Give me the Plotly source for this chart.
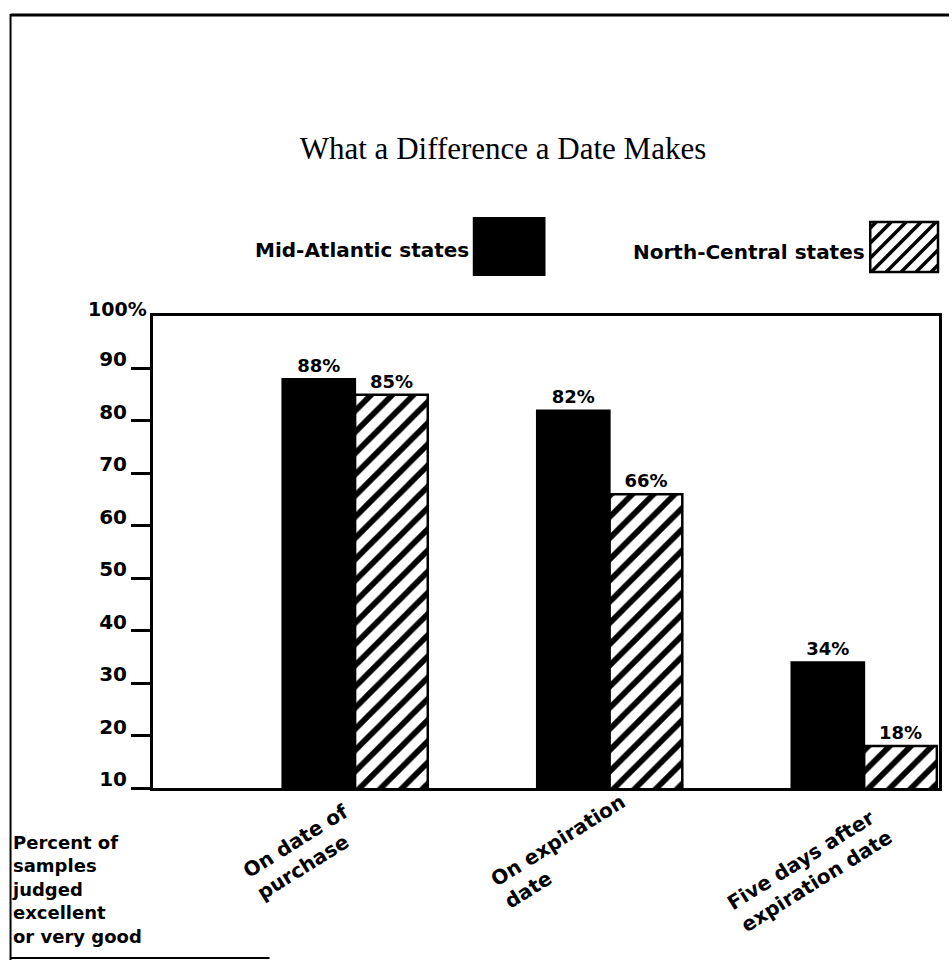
import plotly.graph_objects as go

categories = ["On date of purchase", "On expiration date", "Five days after expiration date"]
cat_labels = ["On date of<br>purchase", "On expiration<br>date", "Five days after<br>expiration date"]
mid_atlantic = [88, 82, 34]
north_central = [85, 66, 18]
series_names = ["Mid-Atlantic states", "North-Central states"]
y_ticks = [10, 20, 30, 40, 50, 60, 70, 80, 90]
y_ticktext = ["10", "20", "30", "40", "50", "60", "70", "80", "90"]
y_top_label = "100%"
y_title = "Percent of<br>samples<br>judged<br>excellent<br>or very good"
title = "What a Difference a Date Makes"

W, H = 952, 966
L, R, T, B = 153, 942, 316, 788
FONT = "'DejaVu Sans', sans-serif"


def px(x):
    return (x - L) / (R - L)


def py(y):
    return (B - y) / (B - T)


fig = go.Figure()
fig.add_trace(go.Bar(
    x=categories, y=mid_atlantic, name=series_names[0],
    marker=dict(color="black", line=dict(color="black", width=2)),
    text=[f"{v}%" for v in mid_atlantic], textposition="outside",
    textfont=dict(family=FONT, size=18, color="black", weight="bold"),
    cliponaxis=False,
))
fig.add_trace(go.Bar(
    x=categories, y=north_central, name=series_names[1],
    marker=dict(color="white", line=dict(color="black", width=2.5),
                pattern=dict(shape="/", fgcolor="black", bgcolor="white",
                             size=15, solidity=0.38, fgopacity=1)),
    text=[f"{v}%" for v in north_central], textposition="outside",
    textfont=dict(family=FONT, size=18, color="black", weight="bold"),
    cliponaxis=False,
))

shapes = []
annotations = []

# category labels (rotated)
label_pos = [(303, 852), (567, 851), (812, 870)]
for lab, (cx, cy) in zip(cat_labels, label_pos):
    annotations.append(dict(
        text=lab, x=px(cx), y=py(cy), xref="paper", yref="paper",
        xanchor="center", yanchor="middle", textangle=-32, align="left",
        showarrow=False, font=dict(family=FONT, size=20, color="black", weight="bold"),
    ))

# top tick label
annotations.append(dict(
    text=y_top_label, x=px(149), y=py(322), xref="paper", yref="paper",
    xanchor="right", yanchor="bottom", showarrow=False,
    font=dict(family=FONT, size=19, color="black", weight="bold"),
))

# y-axis title
annotations.append(dict(
    text=y_title, x=px(9), y=py(830), xref="paper", yref="paper",
    xanchor="left", yanchor="top", align="left", showarrow=False,
    font=dict(family=FONT, size=18, color="black", weight="bold"),
))

# legend
annotations.append(dict(
    text=series_names[0], x=px(472), y=py(250), xref="paper", yref="paper",
    xanchor="right", yanchor="middle", showarrow=False,
    font=dict(family=FONT, size=20, color="black", weight="bold"),
))
annotations.append(dict(
    text=series_names[1], x=px(870), y=py(252), xref="paper", yref="paper",
    xanchor="right", yanchor="middle", showarrow=False,
    font=dict(family=FONT, size=20, color="black", weight="bold"),
))
shapes.append(dict(type="rect", xref="paper", yref="paper",
                   x0=px(475), x1=px(546), y0=py(275), y1=py(218),
                   fillcolor="black", line=dict(color="black", width=2)))
bx0, bx1, by0, by1 = 873, 941, 222, 272
shapes.append(dict(type="rect", xref="paper", yref="paper",
                   x0=px(bx0), x1=px(bx1), y0=py(by1), y1=py(by0),
                   fillcolor="white", line=dict(color="black", width=2.5)))
# hatch lines in legend box ("/" direction)
step = 15
d = -(by1 - by0) + 6
while d < (bx1 - bx0):
    t0 = max(0, -d)
    t1 = min(by1 - by0, (bx1 - bx0) - d)
    if t1 > t0:
        shapes.append(dict(type="line", xref="paper", yref="paper",
                           x0=px(bx0 + d + t0), y0=py(by1 - t0),
                           x1=px(bx0 + d + t1), y1=py(by1 - t1),
                           line=dict(color="black", width=3.5)))
    d += step

# outer frame of the figure
shapes.append(dict(type="line", xref="paper", yref="paper",
                   x0=px(10), x1=px(10), y0=py(14), y1=py(960),
                   line=dict(color="black", width=2)))
shapes.append(dict(type="line", xref="paper", yref="paper",
                   x0=px(10), x1=px(952), y0=py(15), y1=py(15),
                   line=dict(color="black", width=3)))
shapes.append(dict(type="line", xref="paper", yref="paper",
                   x0=px(10), x1=px(270), y0=py(958), y1=py(958),
                   line=dict(color="black", width=2)))

fig.update_layout(
    width=W, height=H,
    margin=dict(l=L, r=W - R, t=T, b=H - B, pad=0),
    paper_bgcolor="white", plot_bgcolor="white",
    barmode="group", bargap=0.429, bargroupgap=0,
    showlegend=False,
    title=dict(text=title, x=503 / W, y=1 - 148 / H, xref="container", yref="container",
               xanchor="center", yanchor="middle",
               font=dict(family="'Liberation Serif', 'DejaVu Serif', serif", size=31, color="black")),
    shapes=shapes, annotations=annotations,
)
fig.update_xaxes(range=[-0.794, 2.294], showticklabels=False, ticks="",
                 showline=True, linecolor="black", linewidth=3, mirror=True,
                 showgrid=False, zeroline=False)
fig.update_yaxes(range=[10, 100], tickvals=y_ticks, ticktext=y_ticktext,
                 ticks="outside", ticklen=19, tickwidth=3, tickcolor="black",
                 ticklabelshift=-9, ticklabelstandoff=0,
                 tickfont=dict(family=FONT, size=20, color="black", weight="bold"),
                 showline=True, linecolor="black", linewidth=3, mirror=True,
                 showgrid=False, zeroline=False)

fig.write_html("out.html")
